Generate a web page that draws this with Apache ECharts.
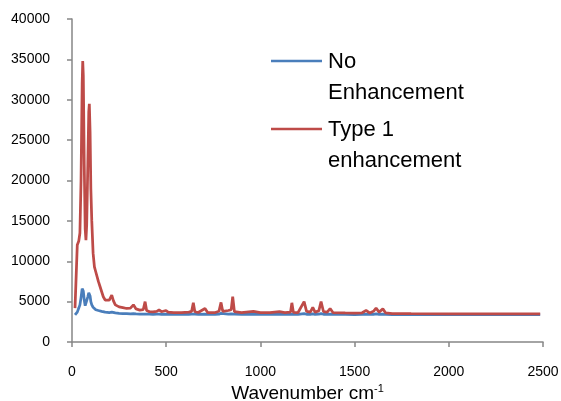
<!DOCTYPE html>
<html>
<head>
<meta charset="utf-8">
<script src="https://cdn.jsdelivr.net/npm/echarts@6/dist/echarts.min.js"></script>
<style>
html,body{margin:0;padding:0;background:#fff;}
#chart{width:561px;height:401px;}
</style>
</head>
<body>
<div id="chart"></div>
<script>
// Wavenumber (cm-1) sample positions
var wavenumbers = [16,22,28,36,42,48,54,57,60,65,70,74,78,84,89,92,96,100,105,112,119,126,133,140,147,157,166,176,186,198,211,220,230,250,270,290,310,326,340,360,378,388,396,410,430,450,462,475,499,510,540,580,620,635,644,652,670,706,720,760,780,791,800,830,845,853,862,900,963,1000,1050,1101,1130,1160,1167,1175,1200,1232,1245,1265,1278,1290,1310,1322,1335,1355,1370,1385,1450,1500,1540,1561,1580,1600,1614,1630,1650,1665,1700,1800,2000,2200,2485];
// No Enhancement
var noEnhancement = [3350,3450,3700,4200,4600,5500,6600,6800,6300,5200,4500,4400,4700,5600,6100,6200,5700,5000,4600,4300,4100,4000,3950,3900,3850,3800,3750,3700,3680,3650,3700,3650,3600,3550,3520,3500,3480,3500,3470,3450,3460,3550,3460,3440,3430,3440,3450,3430,3440,3420,3420,3420,3430,3440,3550,3440,3420,3460,3420,3420,3440,3550,3450,3460,3480,3600,3440,3420,3440,3420,3420,3430,3420,3430,3500,3420,3420,3520,3430,3430,3480,3420,3440,3520,3430,3420,3450,3420,3410,3400,3410,3430,3410,3430,3480,3420,3450,3410,3400,3390,3380,3380,3380];
// Type 1 enhancement
var type1Enhancement = [4200,4400,12000,12500,13500,20000,32000,34800,33000,22000,14000,12600,14500,22000,28500,29500,26000,19000,15000,11000,9300,8700,8500,7500,7000,6800,5600,5200,5000,5200,5800,5100,4600,4350,4250,4150,4200,4600,4100,3950,4000,5000,3900,3760,3720,3800,3970,3750,3900,3700,3650,3640,3700,3800,4850,3750,3650,4150,3650,3650,3800,4900,3800,3900,4000,5600,3750,3650,3800,3650,3640,3750,3640,3700,4850,3680,3650,5000,3800,3700,4300,3700,3850,5000,3750,3700,4150,3650,3600,3580,3620,3900,3600,3800,4200,3700,4100,3600,3520,3500,3490,3480,3480];

var seriesNames = ['No Enhancement', 'Type 1 enhancement'];
var xTicks = [0, 500, 1000, 1500, 2000, 2500];
var yTicks = [0, 5000, 10000, 15000, 20000, 25000, 30000, 35000, 40000];

function pairs(xs, ys) { return xs.map(function (x, i) { return [x, ys[i]]; }); }

var FONT = 'Liberation Sans';
var axisColor = '#868686';
var chart = echarts.init(document.getElementById('chart'), null, {renderer: 'canvas'});
chart.setOption({
  animation: false,
  backgroundColor: '#ffffff',
  grid: {left: 72, right: 18, top: 19, bottom: 59, containLabel: false, outerBoundsMode: 'none'},
  xAxis: {
    type: 'value',
    min: xTicks[0], max: xTicks[xTicks.length - 1], interval: 500,
    name: '{a|Wavenumber cm}{s|-1}',
    nameLocation: 'middle',
    nameGap: 40,
    nameTextStyle: {
      rich: {
        a: {fontFamily: FONT, fontSize: 19, color: '#000'},
        s: {fontFamily: FONT, fontSize: 11, color: '#000', verticalAlign: 'top'}
      }
    },
    axisLine: {show: true, lineStyle: {color: axisColor, width: 1.5}},
    axisTick: {show: true, length: 5, inside: false, lineStyle: {color: axisColor, width: 1.5}},
    axisLabel: {fontFamily: FONT, fontSize: 14, color: '#000', margin: 23, formatter: function (v) { return String(v); }},
    splitLine: {show: false}
  },
  yAxis: {
    type: 'value',
    min: yTicks[0], max: yTicks[yTicks.length - 1], interval: 5000,
    axisLine: {show: true, lineStyle: {color: axisColor, width: 1.5}},
    axisTick: {show: true, length: 5, inside: false, lineStyle: {color: axisColor, width: 1.5}},
    axisLabel: {fontFamily: FONT, fontSize: 14, color: '#000', margin: 22, formatter: function (v) { return String(v); }},
    splitLine: {show: false}
  },
  series: [
    {
      name: seriesNames[0], type: 'line', showSymbol: false, symbol: 'none',
      data: pairs(wavenumbers, noEnhancement),
      lineStyle: {color: '#4a7ebb', width: 2.75}, itemStyle: {color: '#4a7ebb'}
    },
    {
      name: seriesNames[1], type: 'line', showSymbol: false, symbol: 'none',
      data: pairs(wavenumbers, type1Enhancement),
      lineStyle: {color: '#be4b48', width: 2.75}, itemStyle: {color: '#be4b48'}
    }
  ],
  graphic: [
    {type: 'line', shape: {x1: 271, y1: 61, x2: 322, y2: 61}, style: {stroke: '#4a7ebb', lineWidth: 2.5}},
    {type: 'text', x: 328, y: 46, style: {text: 'No\nEnhancement', fontFamily: FONT, fontSize: 22, lineHeight: 31, fill: '#000', verticalAlign: 'top'}},
    {type: 'line', shape: {x1: 271, y1: 129, x2: 322, y2: 129}, style: {stroke: '#be4b48', lineWidth: 2.5}},
    {type: 'text', x: 328, y: 114, style: {text: 'Type 1\nenhancement', fontFamily: FONT, fontSize: 22, lineHeight: 31, fill: '#000', verticalAlign: 'top'}}
  ]
});
</script>
</body>
</html>
